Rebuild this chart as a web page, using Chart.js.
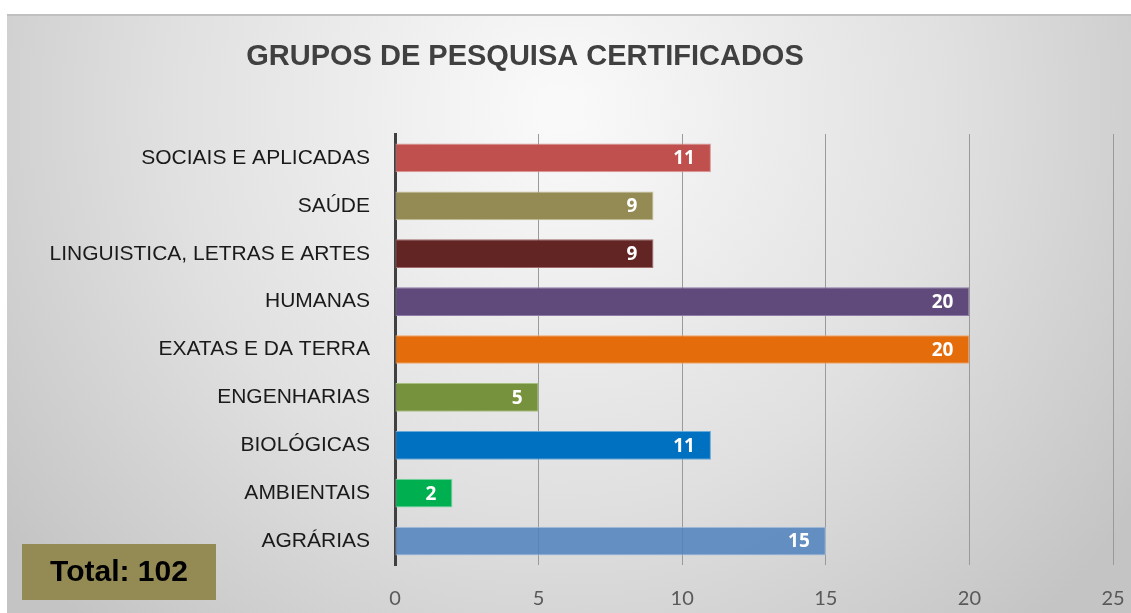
<!DOCTYPE html>
<html>
<head>
<meta charset="utf-8">
<script src="https://cdn.jsdelivr.net/npm/chart.js@4/dist/chart.umd.min.js"></script>
<style>
  html, body { margin: 0; padding: 0; background: #fff; }
  #wrap { width: 1131px; height: 613px; position: relative; }
</style>
</head>
<body>
<div id="wrap"><canvas id="chart" width="1131" height="613"></canvas></div>
<script>
const categories = [
  'SOCIAIS E APLICADAS', 'SAÚDE', 'LINGUISTICA, LETRAS E ARTES', 'HUMANAS',
  'EXATAS E DA TERRA', 'ENGENHARIAS', 'BIOLÓGICAS', 'AMBIENTAIS', 'AGRÁRIAS'
];
const values = [11, 9, 9, 20, 20, 5, 11, 2, 15];
const barColors = ['#C0504D', '#948A54', '#632523', '#604A7B', '#E46C0A',
                   '#76923C', '#0070C0', '#00B050', 'rgba(79,129,189,0.85)'];
const barBorders = ['#D99795', '#C4BD97', '#9E6B69', '#8E7AA6', '#F2A566',
                    '#A7BF7E', '#66A9DA', '#7FD9A3', '#A9C2E0'];
const xTicks = [0, 5, 10, 15, 20, 25];
const titleText = 'GRUPOS DE PESQUISA CERTIFICADOS';
const totalText = 'Total: 102';

// background panel, title and total box
const decor = {
  id: 'decor',
  beforeDraw(chart) {
    const c = chart.ctx;
    c.save();
    const g = c.createRadialGradient(560, 110, 20, 560, 110, 700);
    g.addColorStop(0, '#f9f9f9');
    g.addColorStop(0.55, '#e0e0e0');
    g.addColorStop(1, '#c4c4c4');
    c.fillStyle = g;
    c.fillRect(7, 15, chart.width - 7, chart.height - 15);
    c.fillStyle = '#c0c0c0';
    c.fillRect(7, 14, chart.width - 7, 2);
    c.restore();
  },
  afterDraw(chart) {
    const c = chart.ctx;
    c.save();
    c.fillStyle = '#404040';
    c.font = 'bold 29px "Liberation Sans", Arial, sans-serif';
    c.textAlign = 'center';
    c.textBaseline = 'middle';
    c.fillText(titleText, 525, 57);

    c.fillStyle = '#948A54';
    c.fillRect(22, 544, 194, 56);
    c.fillStyle = '#000';
    c.font = 'bold 30px "Liberation Sans", Arial, sans-serif';
    c.fillText(totalText, 119, 573);
    c.restore();
  }
};

// value labels inside bar ends
const valueLabels = {
  id: 'valueLabels',
  afterDatasetsDraw(chart) {
    const c = chart.ctx;
    const meta = chart.getDatasetMeta(0);
    c.save();
    c.fillStyle = '#fff';
    c.font = 'bold 19px "Open Sans", sans-serif';
    c.textAlign = 'right';
    c.textBaseline = 'middle';
    meta.data.forEach((bar, i) => {
      c.fillText(String(values[i]), bar.x - 16, bar.y + 1);
    });
    c.restore();
  }
};

const ctx = document.getElementById('chart').getContext('2d');
new Chart(ctx, {
  type: 'bar',
  data: {
    labels: categories,
    datasets: [{
      data: values,
      backgroundColor: barColors,
      borderColor: barBorders,
      borderWidth: 1,
      borderSkipped: false,
      categoryPercentage: 1,
      barPercentage: 0.6
    }]
  },
  options: {
    indexAxis: 'y',
    responsive: false,
    animation: false,
    layout: { padding: { top: 134, right: 18, left: 0, bottom: 0 } },
    plugins: { legend: { display: false }, tooltip: { enabled: false } },
    scales: {
      x: {
        min: 0, max: 25,
        afterBuildTicks(axis) { axis.ticks = xTicks.map(v => ({ value: v })); },
        afterFit(axis) {
          axis.height = 48;
          axis.paddingLeft = 0;
          axis.paddingRight = 0;
        },
        grid: {
          color: c => c.tick && c.tick.value === 0 ? 'rgba(0,0,0,0)' : '#9a9a9a',
          lineWidth: 1,
          drawTicks: false
        },
        border: { display: false },
        ticks: {
          padding: 22,
          color: '#595959',
          font: { family: 'Lato', size: 20 }
        }
      },
      y: {
        afterFit(axis) { axis.width = 395; },
        grid: { display: false, drawTicks: false },
        border: { color: '#404040', width: 3 },
        ticks: {
          padding: 25,
          color: '#1a1a1a',
          font: { family: '"Liberation Sans", Arial, sans-serif', size: 21 }
        }
      }
    }
  },
  plugins: [decor, valueLabels]
});
</script>
</body>
</html>
